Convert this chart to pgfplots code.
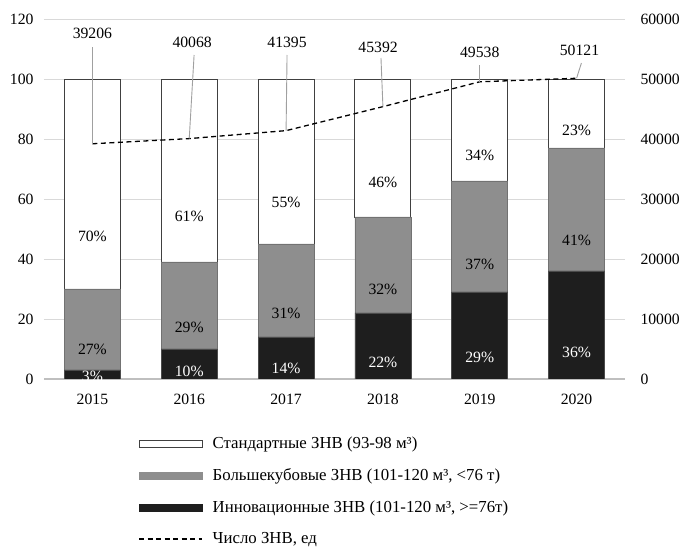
\documentclass[border=0pt]{standalone}
\usepackage{pgfplots}
\pgfplotsset{compat=1.18}
\usepackage{pgfplotstable}
\usepackage{fontspec}
\setmainfont{Liberation Serif}

\definecolor{bargray}{RGB}{142,142,142}
\definecolor{barblack}{RGB}{30,30,30}
\definecolor{gridgray}{RGB}{217,217,217}
\definecolor{zerogray}{RGB}{191,191,191}
\definecolor{leadgray}{RGB}{160,160,160}

% shares of wagon types (%) and total number of wagons
\pgfplotstableread{
x year inno large std count
0 2015 3  27 70 39206
1 2016 10 29 61 40068
2 2017 14 31 55 41395
3 2018 22 32 46 45392
4 2019 29 37 34 49538
5 2020 36 41 23 50121
}\datatable

\pgfplotsset{
  common/.style={
    scale only axis, width=581bp, height=360bp,
    at={(0bp,0bp)}, anchor=south west,
    xmin=-0.5, xmax=5.5,
    axis line style={draw=none},
    major tick length=0pt,
    /pgf/number format/assume math mode=true,
    /pgf/number format/1000 sep={},
    tick label style={font=\fontsize{15.7bp}{18bp}\selectfont},
  },
  % label in the middle of a stacked segment
  seglabel/.style={
    nodes near coords={\pgfmathprintnumber{\pgfplotspointmeta}\%},
    point meta=explicit,
    visualization depends on={\thisrow{#1} \as \segh},
    every node near coord/.append style={anchor=center,
      font=\fontsize{15.7bp}{18bp}\selectfont,
      yshift=-0.75bp*\segh},
  },
  barlegend/.style={legend image code/.code={\draw[##1] (0bp,-3.5bp) rectangle (63bp,3.5bp);}},
  linelegend/.style={legend image code/.code={\draw[##1] (0bp,0bp) -- (63bp,0bp);}},
}

\begin{document}
\begin{tikzpicture}
% stacked shares, left axis
\begin{axis}[common,
  ybar stacked, bar width=56bp,
  ymin=0, ymax=120, ytick={0,20,...,120},
  ymajorgrids, grid style={gridgray, line width=0.8bp},
  extra y ticks={0}, extra y tick labels={},
  extra y tick style={grid style={zerogray, line width=1.3bp}},
  xtick={0,...,5}, xticklabels={2015,2016,2017,2018,2019,2020},
  xticklabel style={yshift=-12bp},
  yticklabel style={xshift=-7bp},
]
\addplot[fill=barblack, draw=barblack!80!white, line width=0.6bp, seglabel=inno,
  every node near coord/.append style={text=white}]
  table[x=x, y=inno, meta=inno] \datatable;
\addplot[fill=bargray, draw=bargray!80!black, line width=0.6bp, seglabel=large]
  table[x=x, y=large, meta=large] \datatable;
\addplot[fill=white, draw=black!75, line width=0.9bp, seglabel=std]
  table[x=x, y=std, meta=std] \datatable;
\end{axis}

% number of wagons, right axis
\begin{axis}[common,
  hide x axis,
  axis y line*=right,
  ymin=0, ymax=60000, ytick={0,10000,...,60000},
  scaled y ticks=false,
  yticklabel style={xshift=12bp},
  legend style={at={(0.157,-0.142)}, anchor=north west, draw=none, fill=none,
    row sep=8.5bp, font=\fontsize{16.8bp}{19bp}\selectfont,
    nodes={inner sep=5bp},
    /tikz/every odd column/.append style={column sep=5bp}},
  legend cell align=left,
]
\addlegendimage{barlegend, fill=white, draw=black!75, line width=0.9bp}
\addlegendentry{Стандартные ЗНВ (93-98 м³)}
\addlegendimage{barlegend, fill=bargray, draw=bargray}
\addlegendentry{Большекубовые ЗНВ (101-120 м³, <76 т)}
\addlegendimage{barlegend, fill=barblack, draw=barblack}
\addlegendentry{Инновационные ЗНВ (101-120 м³, >=76т)}

\addplot[black, line width=1.3bp, dash pattern=on 5bp off 3.5bp, linelegend]
  table[x=x, y=count] \datatable;
\addlegendentry{Число ЗНВ, ед}

% value labels with leader lines
\begin{scope}[leadgray, line width=0.9bp]
\draw (axis cs:0,39206) -- (axis cs:0,55333);
\draw (axis cs:1,40068) -- (axis cs:1.05,54000);
\draw (axis cs:2,41395) -- (axis cs:2.01,54000);
\draw (axis cs:3,45392) -- (axis cs:2.98,53500);
\draw (axis cs:4,49538) -- (axis cs:4,52333);
\draw (axis cs:5,50121) -- (axis cs:5.05,52667);
\end{scope}
\begin{scope}[every node/.style={font=\fontsize{15.7bp}{18bp}\selectfont}]
\node at (axis cs:0,57667) {39206};
\node at (axis cs:1.03,56167) {40068};
\node at (axis cs:2.01,56167) {41395};
\node at (axis cs:2.95,55333) {45392};
\node at (axis cs:4,54500) {49538};
\node at (axis cs:5.03,54833) {50121};
\end{scope}
\end{axis}

\pgfresetboundingbox
\path (-44bp,-168bp) rectangle (637bp,379bp);
\end{tikzpicture}
\end{document}
